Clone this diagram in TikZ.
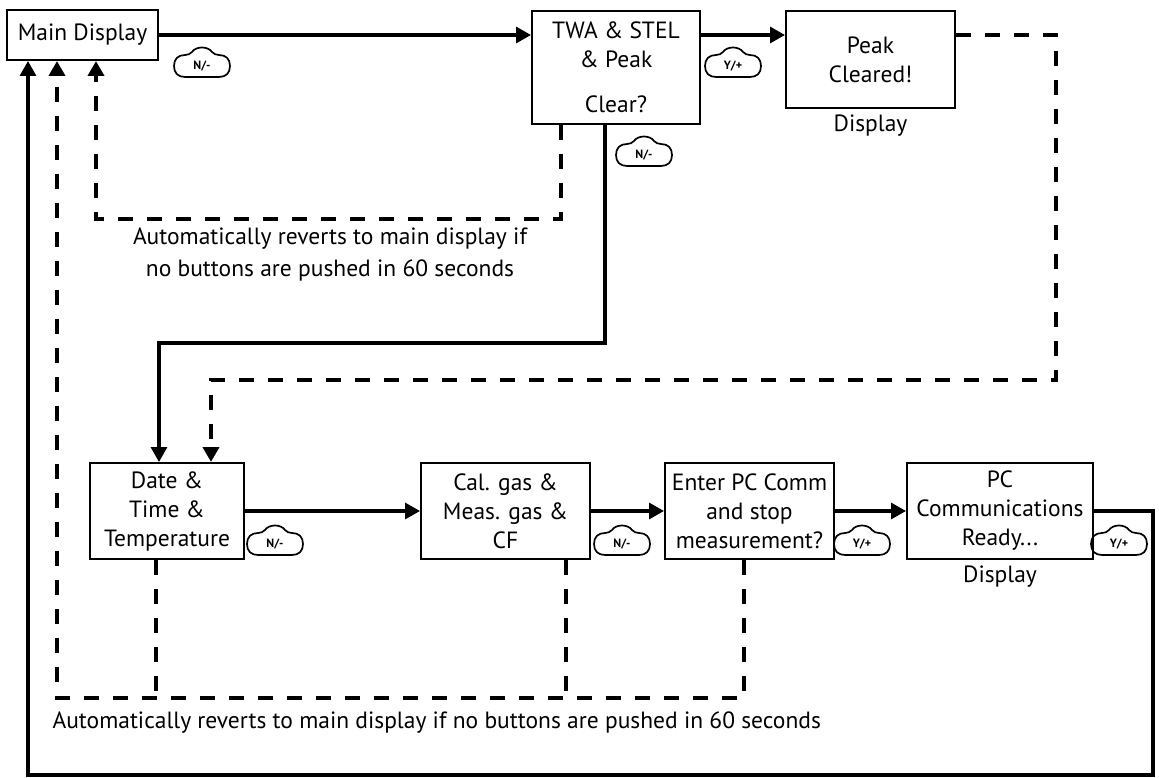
\documentclass[tikz,border=0pt]{standalone}
\usepackage{fontspec}
\setmainfont{PT Sans}
\usetikzlibrary{positioning, arrows.meta}

\begin{document}
\begin{tikzpicture}[x=1pt, y=-1pt,
    box/.style={draw, line width=2pt, minimum height=96pt, align=center, inner sep=0pt, font=\fontsize{23.5}{29}\selectfont},
    flow/.style={line width=3.3pt, -{Triangle[length=15pt, width=16pt]}},
    back/.style={line width=4pt, dash pattern=on 15pt off 14pt},
    backarr/.style={back, -{Triangle[length=15pt, width=16pt]}},
    btn/.style={inner sep=0pt, font=\fontsize{12}{12}\selectfont\bfseries},
    btnline/.style={line width=1.7pt},
    note/.style={align=center, font=\fontsize{23.5}{32}\selectfont}]
    \useasboundingbox (0,0) rectangle (1159,778);
    % upper row
    \node (main) [box, minimum width=151pt, minimum height=50pt] at (82.5,35) {Main Display};
    \node (twa) [box, minimum width=168pt, minimum height=113pt, anchor=north west] at (531,10) {TWA \& STEL\\ \& Peak\\[16pt] Clear?};
    \node (peak) [box, minimum width=169pt, minimum height=97pt, right=84pt of twa.north east, anchor=north west,
        label={[font=\fontsize{23.5}{29}\selectfont, label distance=2pt]below:Display}] {Peak\\ Cleared!};
    % lower row
    \node (date) [box, minimum width=154pt, anchor=north west] at (89,462) {Date \&\\ Time \&\\ Temperature};
    \node (cal) [box, minimum width=169pt, right=175pt of date] {Cal. gas \&\\ Meas. gas \&\\ CF};
    \node (enter) [box, minimum width=169pt, right=73pt of cal] {Enter PC Comm\\ and stop\\ measurement?};
    \node (pc) [box, minimum width=186pt, right=71pt of enter,
        label={[font=\fontsize{23.5}{29}\selectfont, label distance=2pt]below:Display}] {PC\\ Communications\\ Ready...};
    % buttons
    \node (nMain) [btn] at (202,66) {N/-};
    \node (yTwa) [btn] at (733,66) {Y/+};
    \node (nTwa) [btn] at (644,155) {N/-};
    \node (nDate) [btn] at (275,544) {N/-};
    \node (nCal) [btn] at (622,544) {N/-};
    \node (yEnter) [btn] at (862,544) {Y/+};
    \node (yPc) [btn] at (1119,544) {Y/+};
    \foreach \b in {nMain, yTwa, nTwa, nDate, nCal, yEnter, yPc}
        \draw [btnline, shift={(\b.center)}] (-17,11) -- (17,11) .. controls (24,11) and (28,7) .. (28,0)
            .. controls (28,-7) and (24,-11) .. (17,-11) .. controls (14,-11) and (12,-12) .. (10,-14)
            .. controls (6,-20) and (-6,-20) .. (-10,-14) .. controls (-12,-12) and (-14,-11) .. (-17,-11)
            .. controls (-24,-11) and (-28,-7) .. (-28,0) .. controls (-28,7) and (-24,11) .. (-17,11) -- cycle;
    % solid paths
    \draw [flow] (main.east) -- (main.east -| twa.west);
    \draw [flow] (twa.east |- main.east) -- (peak.west |- main.east);
    \draw [flow] ([xshift=-11pt]twa.south) -- ++(0,218) -| ([xshift=-8pt]date.north);
    \draw [flow] (date) -- (cal);
    \draw [flow] (cal) -- (enter);
    \draw [flow] (enter) -- (pc);
    \coordinate (rbot) at (1153,775);
    \draw [flow] (pc.east) -| (rbot) -| ([xshift=-54.5pt]main.south);
    % dashed paths
    \coordinate (rtop) at (1056,380);
    \draw [backarr] (peak.east |- main.east) -| (rtop) -| ([xshift=44pt]date.north);
    \draw [backarr] ([xshift=-55pt]twa.south) -- ++(0,94) -| ([xshift=13.5pt]main.south);
    \coordinate (lbot) at (57,698);
    \draw [backarr] ([xshift=-5.5pt]enter.south) |- (lbot) -- ([xshift=-25.5pt]main.south);
    \draw [back] ([xshift=-11pt]date.south) -- ([xshift=-11pt]date.south |- lbot);
    \draw [back] ([xshift=60.5pt]cal.south) -- ([xshift=60.5pt]cal.south |- lbot);
    % notes
    \node (note1) [note] at (330,254) {Automatically reverts to main display if\\ no buttons are pushed in 60 seconds};
    \node (note2) [note, anchor=west] at (49,723) {Automatically reverts to main display if no buttons are pushed in 60 seconds};
\end{tikzpicture}
\end{document}
